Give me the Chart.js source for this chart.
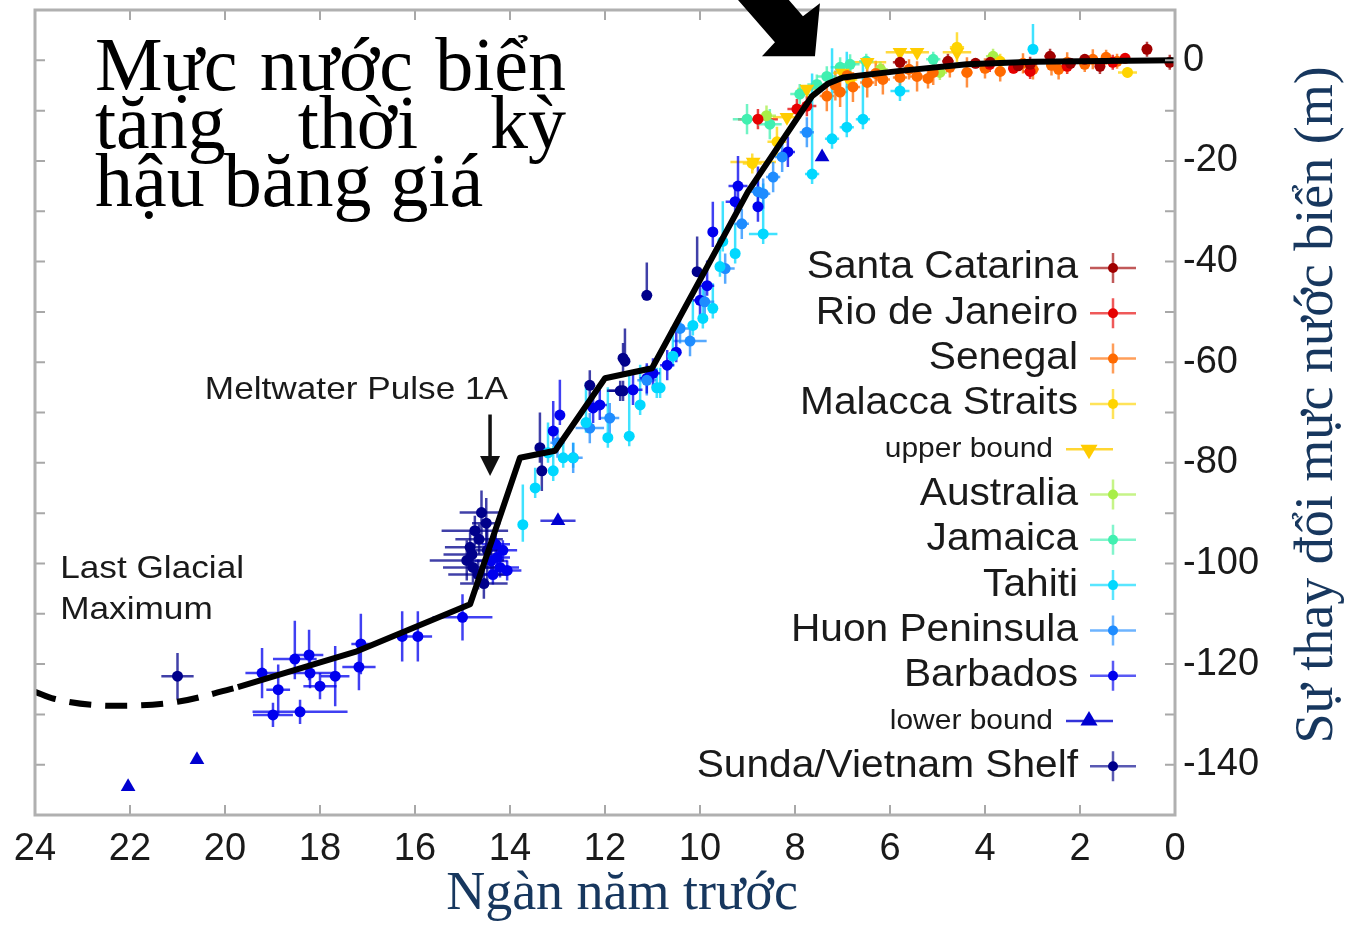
<!DOCTYPE html>
<html>
<head>
<meta charset="utf-8">
<script src="https://cdn.jsdelivr.net/npm/chart.js@4.4.1/dist/chart.umd.min.js"></script>
<style>
    html, body { margin: 0; padding: 0; background: #fff; }
    canvas { display: block; }
</style>
</head>
<body>
<canvas id="seaLevel" width="1345" height="925"></canvas>
<script>
// each point: [age (ka), level (m), age error, level error up, level error down]
const santaCatarina = [[5.79,-0.4,0.15,1.5,1.5],[4.78,-0.2,0.12,1.5,1.5],[3.05,-0.8,0.15,1.5,1.5],[2.63,0.8,0.12,1.5,1.5],[0.59,2.2,0.1,1.5,1.5],[0.11,-0.4,0.1,1.5,1.5],[1.58,-1.2,0.1,1.5,1.5],[3.89,-0.4,0.15,1.5,1.5],[1.9,0.2,0.1,1,1],[2.2,-0.6,0.1,1,1],[3.3,-1.1,0.1,1,1],[4.2,-0.6,0.1,1,1]];
const rioDeJaneiro = [[8.78,-11.7,0.42,2,2],[7.96,-9.7,0.2,2,2],[7.75,-9.1,0.2,2,2],[3.05,-2.2,0.15,1.5,1.5],[2.27,-1.2,0.12,1.5,1.5],[1.31,-0.4,0.12,1.5,1.5],[3.9,-0.8,0.12,1.5,1.5],[1.05,0.4,0.1,1,1],[3.4,-1.6,0.1,1,1]];
const senegal = [[7.33,-7.1,0.15,3,3],[7.05,-6.3,0.15,3,3],[6.78,-5.3,0.15,3,3],[6.48,-4.4,0.15,3,3],[6.15,-3.8,0.15,3,3],[5.79,-3.4,0.15,3,3],[5.43,-3.2,0.15,3,3],[5.09,-2.4,0.12,2.5,2.5],[4.74,-1.4,0.12,2,2],[4.38,-2.4,0.12,3,3],[3.68,-2.2,0.12,2,2],[2.99,-1.8,0.12,2,2],[2.6,-1.0,0.1,2,2],[2.27,-0.4,0.12,2,2],[1.73,0.2,0.12,2,2],[1.22,-0.2,0.12,1.5,1.5],[6.9,-3.0,0.12,2,2],[5.6,-1.8,0.1,2,2],[7.15,-5.0,0.12,3,3],[6.3,-2.6,0.12,2.5,2.5],[5.2,-3.6,0.1,2,2],[4.0,-1.6,0.1,2,2],[3.2,-0.6,0.1,2,2],[2.45,-1.8,0.1,2,2],[1.9,-0.8,0.1,1.5,1.5],[1.45,0.6,0.1,1.5,1.5]];
const malaccaStraits = [[8.38,-16.2,0.2,3,3],[4.59,2.6,0.15,3,3],[1.0,-2.4,0.2,1,1],[6.84,-3.8,0.15,2,2],[3.68,-0.2,0.1,1.5,1.5],[8.9,-20.5,0.2,2,2]];
const upperBound = [[8.88,-20.2,0.48,0,0],[8.17,-11.3,0.3,0,0],[7.75,-5.7,0.2,0,0],[6.48,-0.4,0.4,0,0],[5.79,1.6,0.3,0,0],[5.43,1.6,0.25,0,0],[4.59,1.6,0.3,0,0],[7.0,-2.5,0.2,0,0]];
const australia = [[4.95,-2.4,0.15,1.5,1.5],[3.83,0.8,0.15,1.5,1.5],[6.2,-1.8,0.15,1.5,1.5],[8.6,-11.0,0.2,2,2]];
const jamaica = [[9.01,-11.7,0.3,3,3],[8.53,-12.7,0.25,3,3],[7.54,-4.8,0.2,2,2],[7.33,-3.2,0.2,2,2],[7.05,-1.4,0.2,2,2],[6.84,-0.8,0.2,2,2],[5.09,0.2,0.15,1.5,1.5],[7.9,-6.7,0.2,2,2],[6.5,-0.2,0.15,1.5,1.5]];
const tahiti = [[13.73,-92.3,0.08,8,3.4],[13.47,-85,0.08,4,2],[13.09,-81.6,0.08,5,2],[12.88,-79,0.08,4,2],[12.67,-79,0.08,3,2],[11.94,-75,0.08,10,2],[11.49,-74.7,0.08,13,2],[11.26,-68.5,0.08,8,2],[10.91,-65.1,0.08,4,2],[10.84,-65.1,0.08,4,2],[10.57,-58.8,0.08,5,2],[10.15,-52.7,0.08,5,2],[9.94,-51.3,0.08,7,2],[9.73,-49.3,0.08,5,2],[9.58,-41,0.08,5,2],[9.26,-38.4,0.08,6,2],[8.67,-34.5,0.3,10,2],[9.52,-36,0.08,8,2],[7.64,-22.6,0.15,20,2],[7.22,-15.6,0.15,18,2],[6.91,-13.3,0.15,15,2],[6.57,-11.7,0.15,12,2],[5.79,-6.1,0.2,2,2],[2.99,2.2,0.05,5,1],[13.2,-78,0.1,6,2],[12.4,-72,0.1,8,2]];
const huonPeninsula = [[12.32,-73.1,0.3,3,3],[10.21,-55.8,0.35,3,3],[11.12,-63.6,0.2,3,3],[9.12,-32.5,0.15,3,3],[8.78,-26.1,0.15,3,3],[8.46,-23.2,0.15,3,3],[8.67,-26.5,0.15,3,3],[8.27,-19.2,0.15,3,3],[7.75,-14.3,0.15,3,3],[12.67,-79,0.2,3,3],[11.9,-71.1,0.2,3,3],[10.42,-53.3,0.2,3,3],[9.47,-41.4,0.2,3,3],[13.0,-76,0.15,3,3],[9.9,-48,0.2,3,3]];
const barbados = [[19.22,-121.8,0.35,5,5],[18.88,-125.1,0.25,5,5],[18.99,-130.1,0.42,2.4,2.4],[18.42,-129.5,1.0,2.4,2.4],[18.53,-119.0,0.46,7.6,4],[18.23,-118.2,0.3,5,5],[18.21,-121.8,0.5,3,3],[18.0,-124.4,0.35,2.6,2.6],[17.68,-122.4,0.3,6,6],[17.18,-120.6,0.35,4.6,4.6],[17.14,-116.0,0.2,6,6],[16.27,-114.5,0.1,5,5],[15.94,-114.5,0.3,5,5],[15.0,-110.7,0.63,4.6,4.6],[14.27,-98.8,0.27,2,2],[14.21,-100.8,0.4,2,2],[14.36,-102.2,0.3,2,2],[14.15,-97.4,0.3,2,2],[14.06,-101.4,0.3,2,2],[13.09,-73.7,0.1,6,2],[12.95,-70.5,0.1,7,2],[12.11,-68.5,0.15,3,3],[12.25,-69.1,0.15,3,3],[11.41,-65.5,0.2,3,3],[11.12,-63.2,0.15,3,3],[10.99,-62.2,0.15,3,3],[10.69,-60.6,0.15,3,3],[10.0,-47.7,0.15,3,3],[9.85,-44.8,0.15,5,2],[9.73,-34.1,0.1,6,3],[9.2,-25,0.2,6,3],[9.26,-28.1,0.2,3,3],[8.78,-29.1,0.1,8,3],[8.15,-18.2,0.15,3,3],[10.5,-58,0.1,5,2],[14.4,-99.5,0.35,2,2],[14.3,-96.2,0.3,3,3]];
const lowerBound = [[22.04,-144.4,0,0,0],[20.59,-139,0,0,0],[12.99,-91.5,0.37,0,0],[7.43,-19.2,0,0,0]];
const sundaShelf = [[21.0,-122.4,0.34,4.6,4.6],[14.6,-89.9,0.46,4.4,4.4],[14.74,-93.5,0.7,3,3],[14.84,-96.8,0.53,3,3],[14.91,-99.4,0.78,4,4],[14.78,-100.8,0.63,3,3],[14.67,-102.2,0.63,3,3],[14.48,-97.4,0.4,6,6],[13.37,-77,0.1,7,3],[11.62,-65.7,0.3,2,2],[12.32,-64.6,0.1,3,3],[11.68,-65.7,0.28,2,2],[11.62,-59.2,0.1,3,3],[11.12,-46.7,0.05,6.5,1],[11.58,-59.8,0.05,6.5,1],[10.06,-42,0.05,7,1],[13.33,-81.6,0.1,4,4],[14.5,-92,0.3,5,5],[14.55,-104,0.5,3,3],[14.8,-98.2,0.6,2,2],[14.65,-95.2,0.5,3,3]];

// black sea level curve
const curveAge = [19.73, 17.26, 14.84, 13.79, 13.05, 12.0, 11.01, 8.99, 7.64, 7.3, 6.99, 5.79, 4.38, 2.99, 0];
const curveLevel = [-124.6, -117.6, -108.1, -79.0, -77.6, -63.2, -61.2, -26.1, -7.1, -4.6, -3.4, -2.1, -0.8, -0.3, 0];
const lgmAge = [24, 23.6, 22.3, 21.0, 19.73];
const lgmLevel = [-125.5, -126.9, -128.3, -127.5, -124.6];

const xTicks = [24, 22, 20, 18, 16, 14, 12, 10, 8, 6, 4, 2, 0];
const yTicks = [0, -20, -40, -60, -80, -100, -120, -140];

const series = [
    { label: 'Santa Catarina', pts: santaCatarina, color: '#A00000', style: 'circle' },
    { label: 'Rio de Janeiro', pts: rioDeJaneiro, color: '#E60000', style: 'circle' },
    { label: 'Senegal', pts: senegal, color: '#FF6A00', style: 'circle' },
    { label: 'Malacca Straits', pts: malaccaStraits, color: '#FFD400', style: 'circle' },
    { label: 'upper bound', pts: upperBound, color: '#FFCC00', style: 'down', small: true },
    { label: 'Australia', pts: australia, color: '#A8EE48', style: 'circle' },
    { label: 'Jamaica', pts: jamaica, color: '#40F0B0', style: 'circle' },
    { label: 'Tahiti', pts: tahiti, color: '#00D8FF', style: 'circle' },
    { label: 'Huon Peninsula', pts: huonPeninsula, color: '#1E8CFF', style: 'circle' },
    { label: 'Barbados', pts: barbados, color: '#0000EE', style: 'circle' },
    { label: 'lower bound', pts: lowerBound, color: '#0000D0', style: 'up', small: true },
    { label: 'Sunda/Vietnam Shelf', pts: sundaShelf, color: '#00008B', style: 'circle' },
];

const SANS = '"Liberation Sans", Arial, sans-serif';
const SERIF = '"Liberation Serif", "Times New Roman", serif';
const NAVY = '#17375E';

function alpha(hex, a) {
    const n = parseInt(hex.slice(1), 16);
    return `rgba(${(n >> 16) & 255}, ${(n >> 8) & 255}, ${n & 255}, ${a})`;
}

function stretchText(ctx, str, x, y, align, sx) {
    ctx.save();
    ctx.translate(x, y);
    ctx.scale(sx, 1);
    ctx.textAlign = align;
    ctx.fillText(str, 0, 0);
    ctx.restore();
}

function triangle(ctx, cx, cy, r, down) {
    const s = down ? -1 : 1;
    ctx.beginPath();
    ctx.moveTo(cx, cy - s * r);
    ctx.lineTo(cx + r * 0.95, cy + s * r * 0.6);
    ctx.lineTo(cx - r * 0.95, cy + s * r * 0.6);
    ctx.closePath();
    ctx.fill();
}

// error bars under the points
const errorBars = {
    id: 'errorBars',
    beforeDatasetsDraw(chart) {
        const { ctx, chartArea, scales: { x, y } } = chart;
        ctx.save();
        ctx.beginPath();
        ctx.rect(chartArea.left, chartArea.top, chartArea.right - chartArea.left, chartArea.bottom - chartArea.top);
        ctx.clip();
        ctx.lineWidth = 2.5;
        chart.data.datasets.forEach((ds) => {
            if (!ds.err) return;
            ctx.strokeStyle = alpha(ds.baseColor, 0.75);
            ds.err.forEach(([age, lv, dx, up, dn]) => {
                const px = x.getPixelForValue(age);
                const py = y.getPixelForValue(lv);
                ctx.beginPath();
                if (dx) {
                    ctx.moveTo(x.getPixelForValue(age + dx), py);
                    ctx.lineTo(x.getPixelForValue(age - dx), py);
                }
                if (up || dn) {
                    ctx.moveTo(px, y.getPixelForValue(lv + up));
                    ctx.lineTo(px, y.getPixelForValue(lv - dn));
                }
                ctx.stroke();
            });
        });
        ctx.restore();
    },
};

// legend and text notes
const notes = {
    id: 'notes',
    afterDatasetsDraw(chart) {
        const { ctx, scales: { x, y } } = chart;
        ctx.save();
        ctx.fillStyle = '#1a1a1a';
        ctx.textBaseline = 'middle';

        // legend
        const textRight = 1078, markX = 1113;
        let ly = 268;
        series.forEach((s) => {
            if (s.small) {
                ctx.font = `28px ${SANS}`;
                ctx.fillStyle = '#1a1a1a';
                stretchText(ctx, s.label, textRight - 25, ly, 'right', 1.07);
                ctx.strokeStyle = alpha(s.color, 0.8);
                ctx.lineWidth = 2.5;
                ctx.beginPath();
                ctx.moveTo(markX - 47, ly);
                ctx.lineTo(markX, ly);
                ctx.stroke();
                ctx.fillStyle = s.color;
                triangle(ctx, markX - 24, ly + (s.style === 'down' ? 1 : -1), 9, s.style === 'down');
            } else {
                ctx.font = `38px ${SANS}`;
                ctx.fillStyle = '#1a1a1a';
                stretchText(ctx, s.label, textRight, ly, 'right', 1.07);
                ctx.strokeStyle = alpha(s.color, 0.65);
                ctx.lineWidth = 2.5;
                ctx.beginPath();
                ctx.moveTo(markX - 23, ly);
                ctx.lineTo(markX + 23, ly);
                ctx.moveTo(markX, ly - 15);
                ctx.lineTo(markX, ly + 15);
                ctx.stroke();
                ctx.fillStyle = s.color;
                ctx.beginPath();
                ctx.arc(markX, ly, 5, 0, Math.PI * 2);
                ctx.fill();
            }
            ly += 45.3;
        });

        // Meltwater Pulse 1A
        ctx.fillStyle = '#1a1a1a';
        ctx.font = `32px ${SANS}`;
        stretchText(ctx, 'Meltwater Pulse 1A', x.getPixelForValue(14.04), y.getPixelForValue(-65.5), 'right', 1.1);
        const ax = x.getPixelForValue(14.42);
        const ay0 = y.getPixelForValue(-70.4);
        const ay1 = y.getPixelForValue(-82.6);
        ctx.strokeStyle = '#111';
        ctx.lineWidth = 3.5;
        ctx.beginPath();
        ctx.moveTo(ax, ay0);
        ctx.lineTo(ax, ay1 - 14);
        ctx.stroke();
        ctx.fillStyle = '#111';
        ctx.beginPath();
        ctx.moveTo(ax - 10, ay1 - 20);
        ctx.lineTo(ax + 10, ay1 - 20);
        ctx.lineTo(ax, ay1);
        ctx.closePath();
        ctx.fill();

        // Last Glacial Maximum
        ctx.fillStyle = '#1a1a1a';
        stretchText(ctx, 'Last Glacial', x.getPixelForValue(23.47), y.getPixelForValue(-101.2), 'left', 1.1);
        stretchText(ctx, 'Maximum', x.getPixelForValue(23.47), y.getPixelForValue(-109.3), 'left', 1.1);

        // headline, justified like the slide text box
        ctx.fillStyle = '#000';
        ctx.font = `76px ${SERIF}`;
        ctx.textBaseline = 'alphabetic';
        ctx.textAlign = 'left';
        const left = 95, right = 566;
        const lines = [['Mực', 'nước', 'biển'], ['tăng', 'thời', 'kỳ'], ['hậu', 'băng', 'giá']];
        const bases = [90, 148, 206];
        lines.forEach((words, i) => {
            const widths = words.map((w) => ctx.measureText(w).width);
            const total = widths.reduce((a, b) => a + b, 0);
            let gap = (right - left - total) / (words.length - 1);
            if (i === lines.length - 1) gap = ctx.measureText(' ').width;
            let cx = left;
            words.forEach((w, j) => {
                ctx.fillText(w, cx, bases[i]);
                cx += widths[j] + gap;
            });
        });
        ctx.restore();
    },
};

// frame, inward ticks, axis titles, big arrow
const frame = {
    id: 'frame',
    afterDraw(chart) {
        const { ctx, chartArea: a, scales: { x, y } } = chart;
        ctx.save();
        ctx.strokeStyle = '#a8a8a8';
        ctx.lineWidth = 2;
        ctx.beginPath();
        for (let v = 2; v <= 22; v += 2) {
            const px = x.getPixelForValue(v);
            ctx.moveTo(px, a.bottom);
            ctx.lineTo(px, a.bottom - 10);
            ctx.moveTo(px, a.top);
            ctx.lineTo(px, a.top + 10);
        }
        for (let v = -140; v <= 0; v += 10) {
            const py = y.getPixelForValue(v);
            ctx.moveTo(a.left, py);
            ctx.lineTo(a.left + 10, py);
            ctx.moveTo(a.right, py);
            ctx.lineTo(a.right - 10, py);
        }
        ctx.stroke();
        ctx.lineWidth = 3;
        ctx.strokeStyle = '#b0b0b0';
        ctx.strokeRect(a.left, a.top, a.right - a.left, a.bottom - a.top);

        // axis titles
        ctx.fillStyle = NAVY;
        ctx.font = `54px ${SERIF}`;
        ctx.textAlign = 'center';
        ctx.textBaseline = 'middle';
        ctx.fillText('Ngàn năm trước', 622, 895);
        ctx.save();
        ctx.translate(1318, 405);
        ctx.rotate(-Math.PI / 2);
        ctx.font = `54px ${SERIF}`;
        ctx.fillText('Sự thay đổi mực nước biển (m)', 0, 0);
        ctx.restore();

        // big arrow pointing at the end of the rise
        const tx = x.getPixelForValue(7.58);
        const ty = y.getPixelForValue(0.8);
        const shape = [[-95, -77], [-40, -14], [-53, 0], [0, 0], [5, -53], [-12, -40], [-44, -77]];
        ctx.fillStyle = '#000';
        ctx.beginPath();
        shape.forEach(([dx, dy], i) => (i ? ctx.lineTo(tx + dx, ty + dy) : ctx.moveTo(tx + dx, ty + dy)));
        ctx.closePath();
        ctx.fill();
        ctx.restore();
    },
};

const datasets = [
    {
        label: 'curve',
        data: curveAge.map((v, i) => ({ x: v, y: curveLevel[i] })),
        showLine: true,
        borderColor: '#000',
        borderWidth: 6,
        pointRadius: 0,
        borderJoinStyle: 'round',
        order: 0,
    },
    {
        label: 'lgm',
        data: lgmAge.map((v, i) => ({ x: v, y: lgmLevel[i] })),
        showLine: true,
        borderColor: '#000',
        borderWidth: 6,
        borderDash: [22, 14],
        pointRadius: 0,
        cubicInterpolationMode: 'monotone',
        order: 0,
    },
];

series.forEach((s, i) => {
    const isBound = s.style !== 'circle';
    datasets.push({
        label: s.label,
        data: s.pts.map((p) => ({ x: p[0], y: p[1] })),
        err: s.pts,
        baseColor: s.color,
        backgroundColor: s.color,
        borderColor: s.color,
        borderWidth: 0,
        pointStyle: isBound ? 'triangle' : 'circle',
        pointRotation: s.style === 'down' ? 180 : 0,
        pointRadius: isBound ? 8.5 : 5.5,
        showLine: false,
        order: 1 + i,
    });
});

// axis boxes keep a fixed size and no label overhang padding
function fixBox(scale, w, h) {
    if (w) scale.width = w;
    if (h) scale.height = h;
    scale.paddingTop = 0;
    scale.paddingBottom = 0;
    scale.paddingLeft = 0;
    scale.paddingRight = 0;
}

new Chart(document.getElementById('seaLevel').getContext('2d'), {
    type: 'scatter',
    data: { datasets: datasets },
    options: {
        responsive: false,
        animation: false,
        devicePixelRatio: 1,
        layout: { padding: { top: 10, left: 35, right: 0, bottom: 0 } },
        plugins: { legend: { display: false }, tooltip: { enabled: false } },
        scales: {
            x: {
                type: 'linear',
                reverse: true,
                min: 0,
                max: 24,
                grid: { display: false, drawTicks: false },
                border: { display: false },
                afterBuildTicks: (scale) => { scale.ticks = xTicks.map((v) => ({ value: v })); },
                afterFit: (scale) => fixBox(scale, 0, 110),
                ticks: {
                    autoSkip: false,
                    maxRotation: 0,
                    padding: 12,
                    color: '#1a1a1a',
                    font: { family: SANS, size: 38 },
                },
            },
            y: {
                type: 'linear',
                position: 'right',
                min: -150,
                max: 10,
                grid: { display: false, drawTicks: false },
                border: { display: false },
                afterBuildTicks: (scale) => { scale.ticks = yTicks.map((v) => ({ value: v })); },
                afterFit: (scale) => fixBox(scale, 170, 0),
                ticks: {
                    padding: 8,
                    color: '#1a1a1a',
                    font: { family: SANS, size: 38 },
                },
            },
        },
    },
    plugins: [errorBars, notes, frame],
});
</script>
</body>
</html>
